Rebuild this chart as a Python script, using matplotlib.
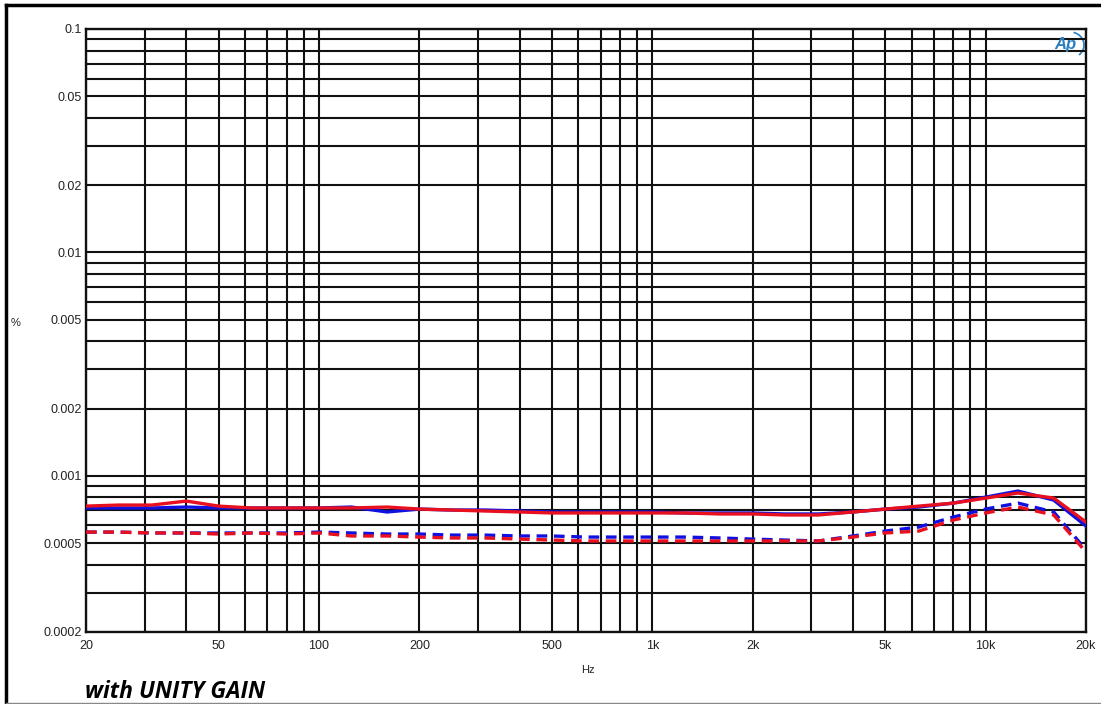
import matplotlib.pyplot as plt
from matplotlib.ticker import FixedLocator, NullFormatter
from matplotlib.lines import Line2D
from matplotlib.patches import Arc

# 1/3 octave measurement points
freq = [20, 25, 31.5, 40, 50, 63, 80, 100, 125, 160, 200, 250, 315, 400, 500,
        630, 800, 1000, 1250, 1600, 2000, 2500, 3150, 4000, 5000, 6300, 8000,
        10000, 12500, 16000, 20000]

# THD+N in %
blue_solid = [0.000718, 0.000718, 0.000718, 0.000725, 0.000718, 0.000718, 0.000718,
              0.000718, 0.000725, 0.000689, 0.000710, 0.000703, 0.000703, 0.000696,
              0.000689, 0.000689, 0.000689, 0.000689, 0.000682, 0.000682, 0.000682,
              0.000675, 0.000675, 0.000689, 0.000710, 0.000725, 0.000755, 0.000803,
              0.000855, 0.000779, 0.000596]
red_solid = [0.000732, 0.000740, 0.000740, 0.000771, 0.000732, 0.000718, 0.000718,
             0.000718, 0.000718, 0.000725, 0.000710, 0.000703, 0.000696, 0.000689,
             0.000682, 0.000682, 0.000682, 0.000682, 0.000682, 0.000675, 0.000675,
             0.000668, 0.000668, 0.000689, 0.000710, 0.000732, 0.000755, 0.000795,
             0.000838, 0.000795, 0.000621]
blue_dash = [0.000560, 0.000560, 0.000555, 0.000555, 0.000555, 0.000555, 0.000555,
             0.000560, 0.000555, 0.000549, 0.000549, 0.000543, 0.000543, 0.000538,
             0.000538, 0.000532, 0.000532, 0.000532, 0.000532, 0.000527, 0.000521,
             0.000516, 0.000511, 0.000538, 0.000566, 0.000590, 0.000654, 0.000710,
             0.000755, 0.000689, 0.000466]
red_dash = [0.000560, 0.000560, 0.000555, 0.000555, 0.000549, 0.000555, 0.000549,
            0.000555, 0.000538, 0.000538, 0.000532, 0.000527, 0.000527, 0.000521,
            0.000516, 0.000511, 0.000511, 0.000511, 0.000511, 0.000511, 0.000511,
            0.000511, 0.000511, 0.000532, 0.000555, 0.000566, 0.000634, 0.000682,
            0.000725, 0.000668, 0.000456]

yticks = [0.1, 0.05, 0.02, 0.01, 0.005, 0.002, 0.001, 0.0005, 0.0002]
ylabels = ["0.1", "0.05", "0.02", "0.01", "0.005", "0.002", "0.001", "0.0005", "0.0002"]
xticks = [20, 50, 100, 200, 500, 1000, 2000, 5000, 10000, 20000]
xlabels = ["20", "50", "100", "200", "500", "1k", "2k", "5k", "10k", "20k"]

plt.rcParams['font.family'] = ['Liberation Sans', 'DejaVu Sans']

fig = plt.figure(figsize=(11.01, 7.04), dpi=100)
ax = fig.add_axes([86/1101, 1-632/704, 1000/1101, 603/704])

blue = '#1010e0'
red = '#e8101e'
ax.plot(freq, blue_solid, color=blue, lw=2.4, zorder=3)
ax.plot(freq, red_solid, color=red, lw=2.4, zorder=4)
ax.plot(freq, blue_dash, color=blue, lw=2.4, dashes=(3.2, 2.0), zorder=3)
ax.plot(freq, red_dash, color=red, lw=2.4, dashes=(3.2, 2.0), zorder=4)

ax.set_xscale('log')
ax.set_yscale('log')
ax.set_xlim(20, 20000)
ax.set_ylim(0.0002, 0.1)

xminor = []
for dec in [10, 100, 1000, 10000]:
    for m in range(1, 10):
        v = m * dec
        if 20 <= v <= 20000 and v not in xticks:
            xminor.append(v)
yminor = []
for dec in [0.0001, 0.001, 0.01]:
    for m in range(1, 10):
        v = round(m * dec, 6)
        if 0.0002 <= v <= 0.1 and v not in yticks:
            yminor.append(v)

ax.xaxis.set_major_locator(FixedLocator(xticks))
ax.xaxis.set_minor_locator(FixedLocator(xminor))
ax.yaxis.set_major_locator(FixedLocator(yticks))
ax.yaxis.set_minor_locator(FixedLocator(yminor))
ax.set_xticklabels(xlabels)
ax.set_yticklabels(ylabels)
ax.xaxis.set_minor_formatter(NullFormatter())
ax.yaxis.set_minor_formatter(NullFormatter())
ax.tick_params(which='both', length=0, labelsize=9, colors='#222222', pad=3)
ax.tick_params(axis='x', pad=6)

ax.grid(True, which='both', color='#111111', lw=1.5)
for s in ax.spines.values():
    s.set_color('#111111')
    s.set_linewidth(1.7)

fig.text(588/1101, 1-670/704, 'Hz', fontsize=8, ha='center', va='center', color='#222222')
fig.text(16/1101, 1-323/704, '%', fontsize=8, ha='center', va='center', color='#222222')
fig.text(85/1101, 1-692/704, 'with UNITY GAIN', fontsize=16.5, fontweight='bold',
         fontstyle='italic', family='Open Sans', ha='left', va='center', color='black')

# Ap logo in top right
fig.text(1065/1101, 1-45/704, 'Ap', fontsize=12, fontstyle='italic', fontweight='bold',
         color='#2a7fc0', ha='center', va='center')
ax.add_artist(Arc((1070/1101, 1-45/704), 28/1101, 26/704, theta1=-60, theta2=80,
                  transform=fig.transFigure, color='#2a7fc0', lw=1.2))

# outer frame
fig.add_artist(Line2D([6/1101, 6/1101], [0, 1-5/704], color='black', lw=2.5))
fig.add_artist(Line2D([6/1101, 1], [1-5/704, 1-5/704], color='black', lw=2.5))
fig.add_artist(Line2D([6/1101, 1], [1-703/704, 1-703/704], color='#888888', lw=1))

fig.savefig('out.png', dpi=100)
